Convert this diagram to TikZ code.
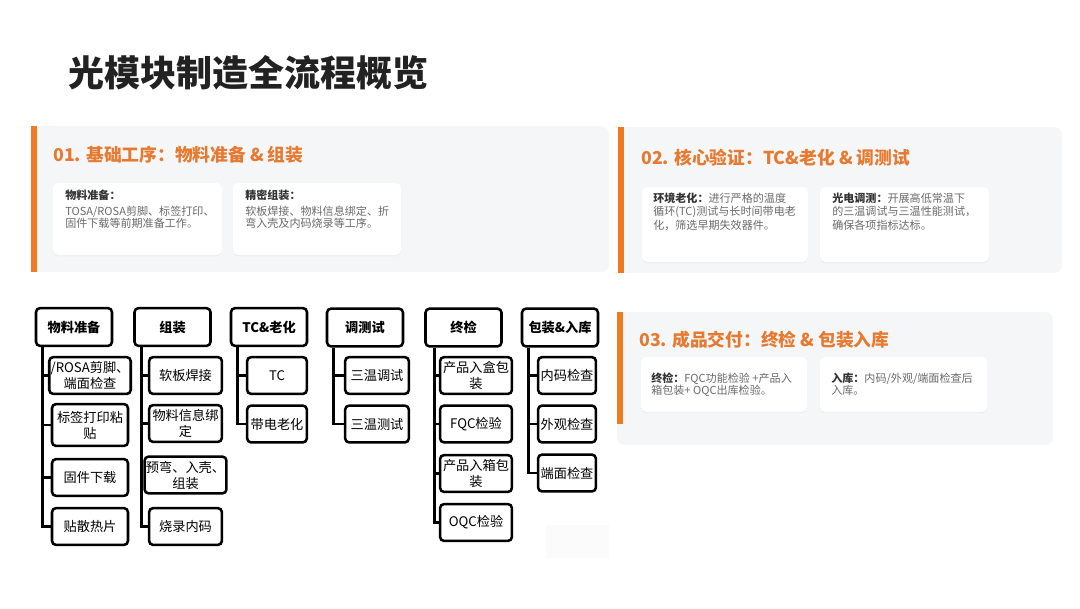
\documentclass[tikz,border=0pt]{standalone}
\usepackage{fontspec}
\setmainfont{Noto Sans CJK SC}
\usepackage{xcolor}
\usetikzlibrary{shadows}
\definecolor{accent}{HTML}{EE7A22}
\definecolor{headc}{HTML}{E57A30}
\definecolor{panelbg}{HTML}{F5F6F8}
\definecolor{bodyc}{HTML}{6A6A6A}
\definecolor{cardhd}{HTML}{333333}
\definecolor{titlec}{HTML}{222222}

\begin{document}
\begin{tikzpicture}[x=0.75pt, y=-0.75pt,
  panel/.style={fill=panelbg, rounded corners=6pt},
  bar/.style={fill=accent},
  card/.style={fill=white, rounded corners=4pt, drop shadow={shadow xshift=0pt, shadow yshift=-1pt, opacity=0.07}},
  head/.style={anchor=west, inner sep=0pt, text=headc, font=\fontsize{13.3}{16}\selectfont\bfseries},
  cardtxt/.style={anchor=north west, inner sep=0pt, align=left, text=bodyc, font=\fontsize{8.3}{#1}\selectfont},
  hd/.style={draw, line width=1.9pt, rounded corners=3pt, fill=white, minimum width=57pt, minimum height=28.3pt, inner sep=1pt, font=\fontsize{9.9}{12}\selectfont\bfseries},
  kid/.style={draw, line width=1.9pt, rounded corners=3pt, fill=white, minimum width=#1, minimum height=27.6pt, inner sep=1pt, align=center, font=\fontsize{9.9}{12}\selectfont},
  link/.style={line width=1.9pt}]
  \useasboundingbox (0,0) rectangle (1080,608);
  % 标题
  \node[anchor=west, inner sep=0pt, text=titlec, font=\fontsize{27}{30}\selectfont\bfseries] (title) at (68,73) {光模块制造全流程概览};

  % 01 基础工序
  \fill[panel] (31,126) rectangle (609,272);
  \fill[bar] (31,126) rectangle (37,272);
  \node[head] (h01) at (53,155) {01. 基础工序：物料准备 \& 组装};
  \fill[card] (53,183) rectangle (222,255);
  \fill[card] (233,183) rectangle (401,255);
  \node[cardtxt=9.4] (t11) at (65,189.5) {\textcolor{cardhd}{\bfseries 物料准备：}\\[2.5pt]TOSA/ROSA剪脚、标签打印、\\固件下载等前期准备工作。};
  \node[cardtxt=9.4] (t12) at (245,189.5) {\textcolor{cardhd}{\bfseries 精密组装：}\\[2.5pt]软板焊接、物料信息绑定、折\\弯入壳及内码烧录等工序。};

  % 02 核心验证
  \fill[panel] (618,127) rectangle (1062,273);
  \fill[bar] (618,127) rectangle (624,273);
  \node[head] (h02) at (641,158) {02. 核心验证：TC\&老化 \& 调测试};
  \fill[card] (642,187) rectangle (808,262);
  \fill[card] (820,187) rectangle (989,262);
  \node[cardtxt=10.1] (t21) at (653,192.5) {\textcolor{cardhd}{\bfseries 环境老化：}进行严格的温度\\循环(TC)测试与长时间带电老\\化，筛选早期失效器件。};
  \node[cardtxt=10.1] (t22) at (832,192.5) {\textcolor{cardhd}{\bfseries 光电调测：}开展高低常温下\\的三温调试与三温性能测试，\\确保各项指标达标。};

  % 03 成品交付
  \fill[panel] (617,312) rectangle (1053,445);
  \fill[bar] (617,312) rectangle (623,424);
  \node[head] (h03) at (639,340) {03. 成品交付：终检 \& 包装入库};
  \fill[card] (641,357) rectangle (807,412);
  \fill[card] (820,357) rectangle (987,412);
  \node[cardtxt=9.2] (t31) at (651,372.5) {\textcolor{cardhd}{\bfseries 终检：}FQC功能检验 +产品入\\箱包装+ OQC出库检验。};
  \node[cardtxt=9.2] (t32) at (831,372.5) {\textcolor{cardhd}{\bfseries 入库：}内码/外观/端面检查后\\入库。};

  % 流程树
  \fill[black!1.5] (546,525) rectangle (609,558);
  \node[hd] (h1) at (74,327) {物料准备};
  \node[hd] (h2) at (172.5,327) {组装};
  \node[hd] (h3) at (269,327) {TC\&老化};
  \node[hd] (h4) at (365,327.5) {调测试};
  \node[hd] (h5) at (463.5,327.5) {终检};
  \node[hd] (h6) at (560,327.5) {包装\&入库};

  \node[kid=57pt] (c11) at (90,375.5) {/ROSA剪脚、\\端面检查};
  \node[kid=57pt, minimum height=31.4pt] (c12) at (90,425) {标签打印粘\\贴};
  \node[kid=57pt] (c13) at (90,477.5) {固件下载};
  \node[kid=57pt] (c14) at (90,526.5) {贴散热片};

  \node[kid=54.6pt] (c21) at (185.5,375.5) {软板焊接};
  \node[kid=54.6pt] (c22) at (185.5,423.5) {物料信息绑\\定};
  \node[kid=54.6pt] (c23) at (185.5,475) {预弯、入壳、\\组装};
  \node[kid=54.6pt] (c24) at (185.5,526.5) {烧录内码};

  \node[kid=44.8pt] (c31) at (277,375.5) {TC};
  \node[kid=44.8pt] (c32) at (277,424) {带电老化};

  \node[kid=47.8pt] (c41) at (377,375.5) {三温调试};
  \node[kid=47.8pt] (c42) at (377,424) {三温测试};

  \node[kid=53.9pt] (c51) at (476,375.5) {产品入盒包\\装};
  \node[kid=53.9pt] (c52) at (476,424) {FQC检验};
  \node[kid=53.9pt] (c53) at (476,473.5) {产品入箱包\\装};
  \node[kid=53.9pt] (c54) at (476,522.5) {OQC检验};

  \node[kid=43.4pt] (c61) at (567,375.5) {内码检查};
  \node[kid=43.4pt] (c62) at (567,424) {外观检查};
  \node[kid=43.4pt] (c63) at (567,473) {端面检查};

  % 连线
  \draw[link] ([xshift=6pt]h1.south west) |- (c11.west);
  \draw[link] ([xshift=6pt]h1.south west) |- (c12.west);
  \draw[link] ([xshift=6pt]h1.south west) |- (c13.west);
  \draw[link] ([xshift=6pt]h1.south west) |- (c14.west);
  \draw[link] ([xshift=6pt]h2.south west) |- (c21.west);
  \draw[link] ([xshift=6pt]h2.south west) |- (c22.west);
  \draw[link] ([xshift=6pt]h2.south west) |- (c23.west);
  \draw[link] ([xshift=6pt]h2.south west) |- (c24.west);
  \draw[link] ([xshift=6pt]h3.south west) |- (c31.west);
  \draw[link] ([xshift=6pt]h3.south west) |- (c32.west);
  \draw[link] ([xshift=6pt]h4.south west) |- (c41.west);
  \draw[link] ([xshift=6pt]h4.south west) |- (c42.west);
  \draw[link] ([xshift=7.5pt]h5.south west) |- (c51.west);
  \draw[link] ([xshift=7.5pt]h5.south west) |- (c52.west);
  \draw[link] ([xshift=7.5pt]h5.south west) |- (c53.west);
  \draw[link] ([xshift=7.5pt]h5.south west) |- (c54.west);
  \draw[link] ([xshift=6pt]h6.south west) |- (c61.west);
  \draw[link] ([xshift=6pt]h6.south west) |- (c62.west);
  \draw[link] ([xshift=6pt]h6.south west) |- (c63.west);
\end{tikzpicture}
\end{document}
